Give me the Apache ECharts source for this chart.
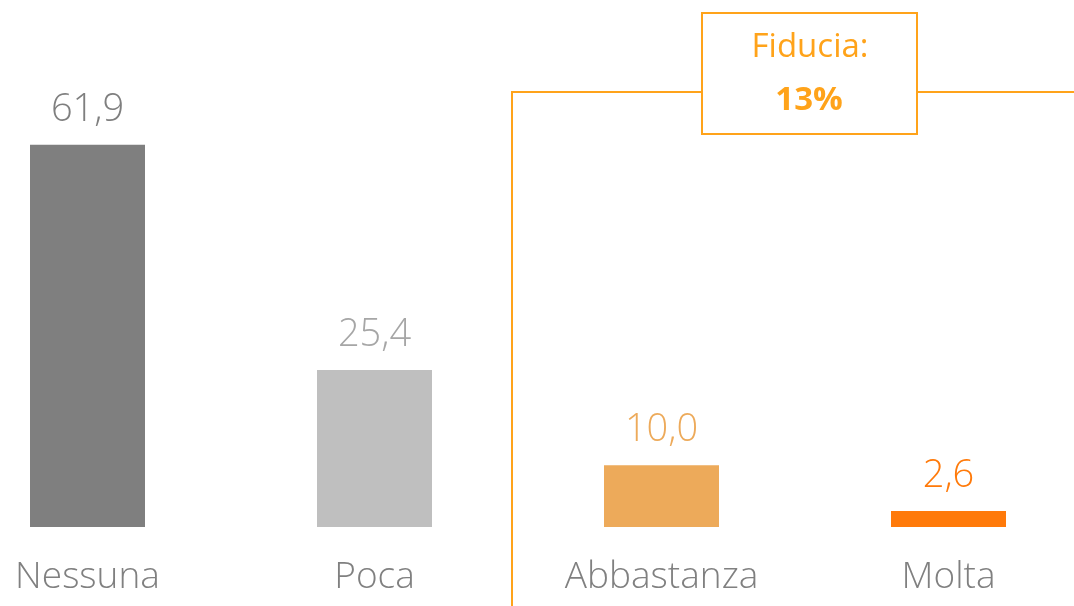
<!DOCTYPE html>
<html>
<head>
<meta charset="utf-8">
<script src="https://cdn.jsdelivr.net/npm/echarts@6/dist/echarts.min.js"></script>
<style>
  html, body { margin: 0; padding: 0; background: #fff; overflow: hidden; }
  body { width: 1074px; height: 606px; position: relative; }
  /* the plot bands run past the window edges, so the chart is wider and shifted left */
  #chart { position: absolute; left: -56px; top: 0; width: 1148px; height: 606px; }
</style>
</head>
<body>
<div id="chart"></div>
<script>
const categories = ["Nessuna", "Poca", "Abbastanza", "Molta"];
const values = [61.9, 25.4, 10.0, 2.6];
const barColors = ["#7f7f7f", "#bfbfbf", "#edaa5a", "#ff7a0a"];
const labelColors = ["#7f7f7f", "#a6a6a6", "#edaa5a", "#ff7a0a"];
const boxTitle = "Fiducia:";
const boxValue = "13%";

const orange = "#ffa31a";
const font = "Open Sans";
const dx = 56; // window offset inside the chart canvas

const c = echarts.init(document.getElementById("chart"));
c.setOption({
  animation: false,
  grid: { left: 0, right: 0, top: 2, bottom: 79 },
  xAxis: {
    type: "category",
    data: categories,
    axisLine: { show: false },
    axisTick: { show: false },
    axisLabel: {
      margin: 32,
      fontFamily: font,
      fontWeight: 300,
      fontSize: 37,
      color: "#808080",
    },
  },
  yAxis: {
    type: "value",
    min: 0,
    max: 85,
    show: false,
    splitLine: { show: false },
  },
  series: [
    {
      type: "bar",
      barWidth: 115,
      data: values.map((v, i) => ({
        value: v,
        itemStyle: { color: barColors[i] },
        label: { color: labelColors[i] },
      })),
      label: {
        show: true,
        position: "top",
        distance: 16,
        fontFamily: font,
        fontWeight: 300,
        fontSize: 38,
        formatter: (p) => p.value.toFixed(1).replace(".", ","),
      },
    },
  ],
  graphic: [
    {
      type: "polyline",
      shape: { points: [[512 + dx, 606], [512 + dx, 92], [702 + dx, 92]] },
      style: { stroke: orange, lineWidth: 2, fill: null },
    },
    {
      type: "line",
      shape: { x1: 917 + dx, y1: 92, x2: 1074 + dx, y2: 92 },
      style: { stroke: orange, lineWidth: 2 },
    },
    {
      type: "rect",
      shape: { x: 702 + dx, y: 13, width: 215, height: 121 },
      style: { stroke: orange, lineWidth: 2, fill: "#fff" },
    },
    {
      type: "text",
      x: 810 + dx,
      y: 48,
      style: {
        text: boxTitle,
        fill: orange,
        font: "400 33px 'Open Sans'",
        align: "center",
        verticalAlign: "middle",
      },
    },
    {
      type: "text",
      x: 809 + dx,
      y: 101,
      style: {
        text: boxValue,
        fill: orange,
        font: "700 33px 'Open Sans'",
        align: "center",
        verticalAlign: "middle",
      },
    },
  ],
});
</script>
</body>
</html>
